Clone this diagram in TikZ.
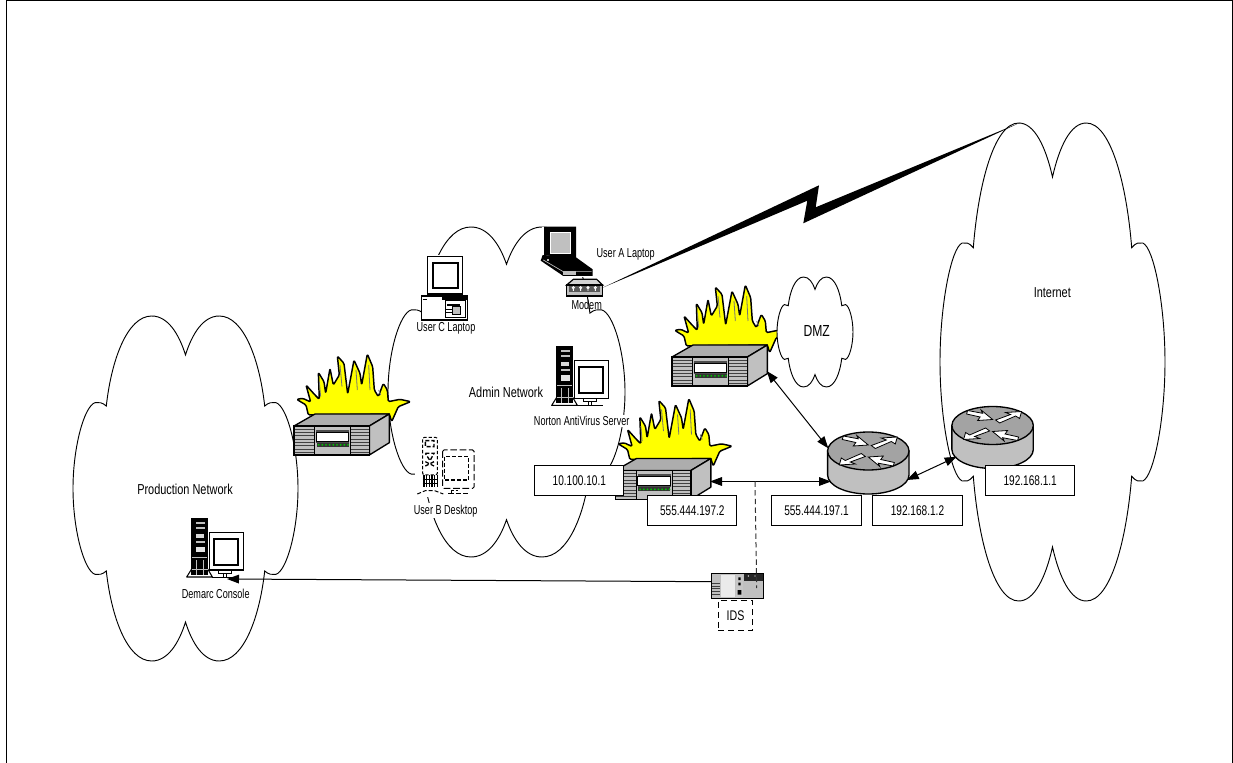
\documentclass[tikz,border=0pt]{standalone}
\usepackage{fontspec}
\setmainfont{Liberation Sans}
\newfontfamily\smallf[FakeStretch=0.70]{Liberation Sans}
\newfontfamily\ipf[FakeStretch=0.72]{Liberation Sans}
\newfontfamily\bigf[FakeStretch=0.76]{Liberation Sans}
\usetikzlibrary{arrows.meta}
\definecolor{boxgray}{HTML}{C0C0C0}
\definecolor{flame}{HTML}{FFFF00}
\definecolor{ledgreen}{HTML}{00C000}
\tikzset{
  cloudline/.style={draw=black,fill=white,line width=0.7pt,line join=miter},
  iconline/.style={draw=black,line width=1pt},
  thinrule/.style={draw=black!75,line width=0.55pt},
  link/.style={draw=black,line width=0.75pt},
  twohead/.style={link,{Triangle[length=9pt,width=6.5pt]}-{Triangle[length=9pt,width=6.5pt]}},
  onehead/.style={link,-{Triangle[length=9pt,width=6.5pt]}},
  iptext/.style={draw=black,fill=white,line width=0.75pt,minimum width=67pt,minimum height=22.5pt,inner sep=0pt,font=\ipf\fontsize{10.5}{12}\selectfont},
  smalltext/.style={inner sep=1pt,font=\smallf\fontsize{9.75}{11}\selectfont},
  smallfill/.style={smalltext,fill=white},
  bigtext/.style={inner sep=1pt,font=\bigf\fontsize{10.8}{12}\selectfont},
  anchorbox/.style={inner sep=0pt,outer sep=0pt,draw=none,fill=none}
}
\newcommand\cloudshape[4]{%
\begin{scope}[shift={(#1,#2)},xscale=#3,yscale=#4]
\draw[cloudline] (.5,.113) .. controls (.47,.05) and (.42,0) .. (.35,0)
 .. controls (.24,0) and (.17,.13) .. (.148,.261)
 .. controls (.13,.25) and (.115,.25) .. (.099,.251)
 .. controls (.05,.26) and (0,.38) .. (0,.5)
 .. controls (0,.62) and (.05,.74) .. (.099,.749)
 .. controls (.115,.75) and (.13,.75) .. (.148,.739)
 .. controls (.17,.87) and (.24,1) .. (.35,1)
 .. controls (.42,1) and (.47,.95) .. (.5,.887)
 .. controls (.53,.95) and (.58,1) .. (.65,1)
 .. controls (.76,1) and (.83,.87) .. (.852,.739)
 .. controls (.87,.75) and (.885,.75) .. (.901,.749)
 .. controls (.95,.74) and (1,.62) .. (1,.5)
 .. controls (1,.38) and (.95,.26) .. (.901,.251)
 .. controls (.885,.25) and (.87,.25) .. (.852,.261)
 .. controls (.83,.13) and (.76,0) .. (.65,0)
 .. controls (.58,0) and (.53,.05) .. (.5,.113) -- cycle;
\end{scope}}
\newcommand\firewall[2]{%
\begin{scope}[shift={({#1-14},{#2-86})},scale=0.33333]
\draw[fill=flame,line width=1.1pt,line join=round,rounded corners=1pt] (85,225) -- (78,195) -- (50,178) -- (68,175) -- (92,186) -- (78,135) -- (105,165) -- (118,178) -- (115,97) -- (132,125) -- (137,160) -- (150,85) -- (160,135) -- (178,105) -- (172,48) -- (192,70) -- (203,162) -- (222,60) -- (240,100) -- (245,135) -- (262,42) -- (278,80) -- (283,150) -- (295,170) -- (310,130) -- (322,150) -- (325,185) -- (360,178) -- (392,185) -- (355,200) -- (335,245) -- (328,222) -- cycle;
\draw[black!55,line width=0.6pt] (118,125) -- (122,170) (180,75) -- (186,140) (228,90) -- (232,150) (266,75) -- (270,150) (296,150) -- (302,165);
\draw[iconline,fill=boxgray!90!black,line join=round] (42,258) -- (105,222) -- (328,222) -- (268,258) -- cycle;
\draw[iconline,fill=boxgray,line join=round] (268,258) -- (328,222) -- (328,308) -- (268,345) -- cycle;
\draw[iconline,fill=boxgray] (42,258) rectangle (268,345);
\draw[line width=0.6pt] (104,258) -- (104,345) (212,258) -- (212,345);
\foreach \yy in {267,277,...,337}{\draw[thinrule] (44,\yy) -- (102,\yy) (214,\yy) -- (266,\yy);}
\fill[black!70] (108,270) rectangle (208,308);
\draw[fill=white,draw=black,line width=0.7pt] (109,276) rectangle (206,303);
\fill[black!80] (110,309) rectangle (206,320);
\foreach \xx in {116,127,...,204}{\fill[ledgreen] (\xx,314.5) circle (3.2);}
\end{scope}}
\newcommand\routerarrow{%
\draw[fill=white,draw=black,line width=0.6pt,line join=miter] (-25,-15) -- (-10,-12.2) -- (-11.5,-15.5) -- (0,-6) -- (-15,-5) -- (-12.5,-8.5) -- (-26,-11.5) -- cycle;
\draw[fill=white,draw=black,line width=0.6pt,line join=miter] (3,-5.5) -- (18,-11) -- (13,-13) -- (29,-14) -- (27,-7) -- (23,-9.5) -- (7,-2.5) -- cycle;}
\newcommand\router[2]{%
\begin{scope}[shift={(#1,#2)}]
\draw[iconline,fill=boxgray] (-40.7,0) -- (-40.7,24) arc[x radius=40.7,y radius=19,start angle=180,end angle=0] -- (40.7,0) -- cycle;
\draw[iconline,fill=boxgray!85!black] (0,0) ellipse[x radius=40.7,y radius=19];
\routerarrow
\begin{scope}[rotate=180]\routerarrow\end{scope}
\end{scope}}
\newcommand\towerdesk[2]{%
\begin{scope}[shift={({#1-36.667},{#2-6.667})},scale=0.33333]
\fill[white] (95,18) rectangle (268,200);
\draw[fill=white,line width=0.8pt,line join=round] (110,172) -- (95,196) -- (172,196) -- (158,172) -- cycle;
\fill[black] (108,18) rectangle (159,190);
\fill[boxgray] (122,30) rectangle (150,36);
\fill[boxgray] (122,46) rectangle (150,52);
\fill[white!85!black] (122,66) rectangle (146,78);
\fill[boxgray] (122,88) rectangle (150,94);
\fill[white!90!black] (122,106) rectangle (150,122);
\fill[boxgray] (112,136) rectangle (156,139);
\draw[boxgray,line width=0.4pt] (124,145) -- (124,190) (144,145) -- (144,190) (110,172) -- (158,172);
\draw[fill=white,line width=0.9pt] (163,62) rectangle (265,175);
\draw[fill=white,line width=1.6pt] (178,82) rectangle (250,160);
\draw[line width=0.7pt,fill=white] (190,175) rectangle (230,184);
\draw[line width=0.7pt] (205,184) -- (205,195) (215,184) -- (215,195);
\draw[line width=1pt] (172,197) -- (250,197);
\end{scope}}
\begin{document}
\begin{tikzpicture}[x=0.75pt,y=-0.75pt]
\useasboundingbox (0,0) rectangle (1233,763);
\fill[white] (0,0) rectangle (1233,763);
\coordinate (frameBL) at (6.5,763);
\coordinate (frameTL) at (6.5,0.5);
\coordinate (frameTR) at (1232,0.5);
\coordinate (frameBR) at (1232,763);
\draw[link] (frameBL) -- (frameTL) -- (frameTR) -- (frameBR);

% clouds
\cloudshape{73}{316}{225}{345}
\cloudshape{388}{227}{237}{330}
\cloudshape{940}{123}{225}{478}

% firewalls
\firewall{294}{426}
\firewall{672}{357}
\cloudshape{777}{277}{76}{110}
\firewall{615.5}{470.5}
\node[anchorbox,minimum width=56pt,minimum height=22pt,anchor=north west] (fwProd) at (294,426) {};
\node[anchorbox,minimum width=56pt,minimum height=22pt,anchor=north west] (fwDMZ) at (672,357) {};
\node[anchorbox,minimum width=56pt,minimum height=22pt,anchor=north west] (fwAdmin) at (615.5,470.5) {};

% routers
\router{868.3}{451}
\router{992.6}{425.5}
\node[anchorbox,minimum width=61pt,minimum height=33pt] (routerA) at (868.3,463.5) {};
\node[anchorbox,minimum width=61pt,minimum height=33pt] (routerB) at (992.6,438) {};

% server / consoles
\towerdesk{556.7}{346.7}
\towerdesk{191.7}{518.3}
\node[anchorbox,minimum width=50pt,minimum height=40pt,anchor=north west] (demarc) at (186,518) {};
\node[anchorbox,minimum width=50pt,minimum height=40pt,anchor=north west] (norton) at (551,347) {};

% User B desktop (dashed)
\begin{scope}[shift={(280,340)},scale=0.33333]
\fill[white] (405,290) rectangle (585,470);
\draw[line width=0.75pt,dashed,dash pattern=on 2.5pt off 1.5pt,rounded corners=1.5pt] (428,292) rectangle (472,405);
\draw[line width=1pt,dash pattern=on 3pt off 1.5pt] (436,302) -- (462,302) -- (462,320) -- (436,320) -- cycle (436,340) -- (462,340) -- (450,362) -- cycle (436,365) -- (462,378) (462,365) -- (436,378);
\foreach \xx in {432,440,...,472}{\draw[line width=0.8pt] (\xx,405) -- (\xx,442);}
\draw[line width=0.9pt] (428,418) -- (472,418) (428,430) -- (472,430);
\draw[line width=0.75pt,dash pattern=on 3pt off 1.5pt] (412,462) -- (436,452) -- (464,452) -- (490,462);
\draw[line width=0.75pt,dash pattern=on 5pt off 2pt,rounded corners=1pt] (488,330) rectangle (582,445);
\draw[line width=1.1pt,dash pattern=on 3pt off 1.5pt] (493,350) rectangle (566,420);
\draw[line width=0.75pt,dash pattern=on 4pt off 1.5pt] (505,462) -- (565,462) (515,462) -- (515,452) -- (535,452);
\end{scope}
\node[anchorbox,minimum width=40pt,minimum height=37pt,anchor=north west] (userB) at (422.7,437.3) {};

% User C PC
\begin{scope}[shift={(410,220)},scale=0.33333]
\fill[white] (33,106) rectangle (175,302);
\draw[fill=white,line width=0.9pt] (52,110) rectangle (158,222);
\draw[fill=white,line width=1.7pt] (68,128) rectangle (145,205);
\draw[line width=1.2pt] (55,225) -- (155,225);
\draw[fill=white,line width=0.9pt] (35,228) rectangle (172,300);
\draw[line width=1.2pt] (38,238) -- (50,238);
\fill[black] (95,232) rectangle (170,240);
\draw[fill=white,line width=0.7pt] (105,240) rectangle (165,292);
\fill[black] (112,252) rectangle (150,258);
\draw[fill=boxgray,line width=0.6pt] (128,258) rectangle (150,282);
\draw[line width=0.5pt] (108,268) -- (125,268) (108,278) -- (125,278);
\end{scope}
\node[anchorbox,minimum width=34pt,minimum height=48pt,anchor=north west] (userC) at (421.7,256.7) {};

% Laptop + modem
\begin{scope}[shift={(410,220)},scale=0.33333]
\fill[white] (395,20) rectangle (550,170);
\fill[white] (468,178) rectangle (582,230);
\fill[black] (402,20) -- (498,20) -- (498,118) -- (402,105) -- cycle;
\fill[boxgray] (420,36) rectangle (482,100);
\draw[white,line width=0.5pt] (420,36) rectangle (482,100);
\fill[black] (398,105) -- (498,112) -- (548,148) -- (548,168) -- (460,168) -- (392,122) -- cycle;
\fill[boxgray] (412,118) rectangle (416,122);
\draw[boxgray,line width=0.5pt] (400,120) -- (460,155) -- (545,155);
\fill[boxgray] (458,152) rectangle (498,165);
\draw[iconline,fill=boxgray!70,line width=0.9pt] (490,178) -- (560,178) -- (578,195) -- (470,195) -- cycle;
\draw[iconline,fill=boxgray,line width=0.9pt] (470,195) rectangle (578,228);
\fill[black!65] (478,199) rectangle (570,216);
\foreach \xx in {490,512,534,556}{\draw[white,line width=0.7pt] (\xx,203) circle (3.2) (\xx,206) -- (\xx,213);}
\end{scope}
\node[anchorbox,minimum width=27pt,minimum height=13pt,anchor=north west] (modem) at (566.7,279) {};

% lightning link
\coordinate (lightTip) at (1020,122.7);
\fill[black] (modem.east) -- (819,185.3) -- (815.7,207.3) -- (lightTip) -- (803.3,223.3) -- (807.3,200.7) -- cycle;

% IDS
\begin{scope}[shift={(670,500)},scale=0.33333]
\draw[iconline,fill=boxgray] (125,220) rectangle (280,295);
\draw[thinrule] (127,250) -- (150,250) (127,258) -- (150,258) (127,266) -- (150,266) (127,274) -- (150,274) (127,282) -- (150,282);
\fill[white!92!black] (152,224) rectangle (195,291);
\fill[boxgray!90!white] (197,224) rectangle (218,291);
\fill[black] (205,232) rectangle (212,240) (205,248) rectangle (212,256) (203,270) rectangle (214,284);
\fill[black!85] (222,222) rectangle (278,242);
\fill[boxgray] (227,246) rectangle (274,262) (227,266) rectangle (274,290);
\fill[white] (235,228) circle (2) (255,228) circle (2);
\end{scope}
\node[anchorbox,minimum width=38.7pt,minimum height=18.7pt,anchor=north west] (ids) at (711.7,573.3) {};

% address boxes
\node[iptext] (ipAdmin) at (579.3,480.7) {10.100.10.1};
\node[iptext] (ipFw) at (692.3,510.7) {555.444.197.2};
\node[iptext] (ipRa) at (816.5,510.7) {555.444.197.1};
\node[iptext] (ipRb) at (917.5,510.7) {192.168.1.2};
\node[iptext] (ipRc) at (1030.2,480.8) {192.168.1.1};

% labels
\node[bigtext] (lblProd) at (185,489) {Production Network};
\node[bigtext] (lblAdmin) at (506,392.7) {Admin Network};
\node[bigtext] (lblDMZ) at (816.7,331) {\fontsize{12}{13}\selectfont DMZ};
\node[bigtext] (lblNet) at (1052.3,292.3) {Internet};
\node[smallfill] (lblDemarc) at (215.7,594) {Demarc Console};
\node[smallfill] (lblC) at (446,328.3) {User C Laptop};
\node[smalltext] (lblA) at (625.7,254) {User A Laptop};
\node[smalltext] (lblModem) at (586.7,305) {Modem};
\node[smallfill] (lblNorton) at (581.7,420.7) {Norton AntiVirus Server};
\node[smallfill] (lblB) at (445.7,510.7) {User B Desktop};
\node[inner sep=0pt,minimum width=25.8pt,minimum height=22.5pt,draw=black,line width=0.75pt,dashed,dash pattern=on 4.5pt off 3pt,font=\bigf\fontsize{10.5}{12}\selectfont] (lblIDS) at (735.5,615.7) {IDS};

% connectors
\coordinate (fwDMZport) at (766.7,371);
\coordinate (rAup) at (828.3,448.3);
\coordinate (fwAdminport) at (710,481.5);
\coordinate (rAleft) at (831,481.5);
\coordinate (rAright) at (906.7,480);
\coordinate (rBleft) at (956.7,456.7);
\coordinate (tapTop) at (755,481.5);
\coordinate (idsTop) at (756.7,588);
\coordinate (demarcIn) at (227,579);
\coordinate (idsLeft) at (711.7,581.7);
\draw[twohead] (fwDMZport) -- (rAup);
\draw[twohead] (fwAdminport) -- (rAleft);
\draw[twohead] (rAright) -- (rBleft);
\draw[onehead] (idsLeft) -- (demarcIn);
\draw[link,dashed,dash pattern=on 4pt off 2.5pt,draw=black!80] (tapTop) -- (idsTop);
\end{tikzpicture}
\end{document}
